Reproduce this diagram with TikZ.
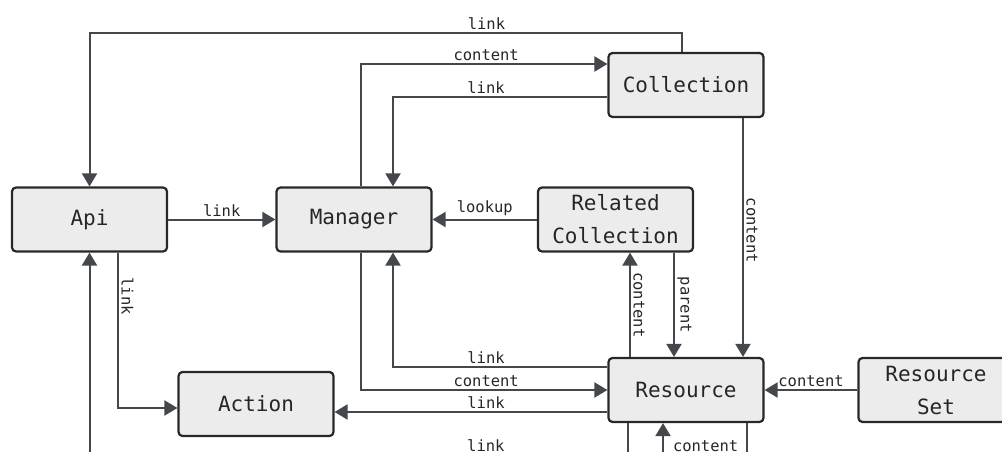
\documentclass[tikz,border=0pt]{standalone}
\usepackage{fontspec}
\setmonofont{DejaVu Sans Mono}
\usetikzlibrary{arrows.meta}
\definecolor{edge}{RGB}{68,72,76}
\definecolor{boxfill}{RGB}{236,236,236}
\definecolor{boxline}{RGB}{40,40,40}
\begin{document}
\begin{tikzpicture}[x=1pt, y=-1pt,
    box/.style={draw=boxline, fill=boxfill, line width=2.2pt, rounded corners=4pt,
      minimum width=155pt, minimum height=64pt, inner sep=0pt, align=center,
      text=black!85, font=\ttfamily\fontsize{21}{33}\selectfont},
    conn/.style={draw=edge, line width=2pt, -{Triangle[length=13pt,width=15pt]}},
    lbl/.style={font=\ttfamily\fontsize{15.5}{18}\selectfont, text=black!85, inner sep=2.5pt},
    vlbl/.style={lbl, rotate=-90, anchor=south}]
    \useasboundingbox (0,0) rectangle (1002,452);
    \clip (0,0) rectangle (1002,452);
    % classes
    \node[box] (api) at (89.5,219.5) {Api};
    \node[box] (mgr) at (354,219.5) {Manager};
    \node[box] (col) at (686,85) {Collection};
    \node[box] (rel) at (615.5,219.5) {Related\\Collection};
    \node[box] (act) at (256,404) {Action};
    \node[box] (res) at (686,390) {Resource};
    \node[box] (rs) at (936,390) {Resource\\Set};
    % ends that run off the bottom
    \coordinate (lowapi) at (89.5,470);
    \coordinate (lowlink) at (-30,455);
    \coordinate (lowcont) at (900,455);
    \coordinate (lowres) at (747,470);
    % upper links
    \draw[conn] ([xshift=-4pt]col.north) -- ++(0,-19) -| node[lbl, above, pos=0.165] {link} (api.north);
    \draw[conn] ([xshift=7pt]mgr.north) |- node[lbl, above, pos=0.754] {content} ([yshift=21pt]col.west);
    \draw[conn] ([yshift=-12pt]col.west) -| node[lbl, above, pos=0.283] {link} ([xshift=39pt]mgr.north);
    \draw[conn] (api) -- node[lbl, above] {link} (mgr);
    \draw[conn] (rel) -- node[lbl, above] {lookup} (mgr);
    \draw[conn] ([xshift=28.5pt]api.south) |- node[vlbl, pos=0.14] {link} ([yshift=-4pt]act.west);
    \draw[conn] (lowapi) -- (api.south);
    % around the resource
    \draw[conn] ([yshift=23pt]res.west) -| node[lbl, above, pos=0.283] {link} ([xshift=39pt]mgr.south);
    \draw[conn] ([xshift=7pt]mgr.south) |- node[lbl, above, pos=0.754] {content} (res.west);
    \draw[conn] ([yshift=-22pt]res.west) -- node[lbl, above, pos=0.445] {link} ([yshift=-8pt]act.east);
    \draw[conn] ([xshift=-56pt]res.north) -- node[vlbl] {content} ([xshift=14.5pt]rel.south);
    \draw[conn] ([xshift=58.5pt]rel.south) -- node[vlbl] {parent} ([xshift=-12pt]res.north);
    \draw[conn] ([xshift=57pt]col.south) -- node[vlbl, pos=0.47] {content} ([xshift=57pt]res.north);
    \draw[conn] (rs) -- node[lbl, above] {content} (res);
    \draw[conn] ([xshift=-58pt]res.south) |- node[lbl, above, pos=0.608] {link} (lowlink);
    \draw[conn] (lowcont) -| node[lbl, above, pos=0.41] {content} ([xshift=-23pt]res.south);
    \draw[draw=edge, line width=2pt] ([xshift=61pt]res.south) -- (lowres);
\end{tikzpicture}
\end{document}
